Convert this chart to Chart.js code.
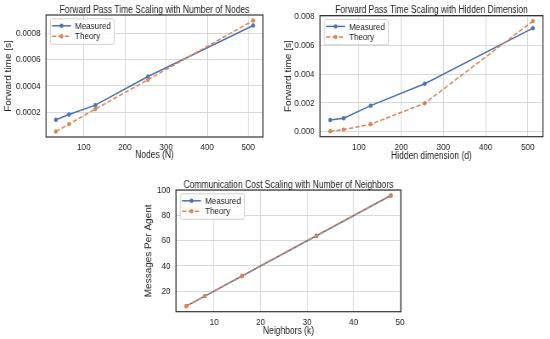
<!DOCTYPE html>
<html>
<head>
<meta charset="utf-8">
<script src="https://cdn.jsdelivr.net/npm/chart.js@4/dist/chart.umd.min.js"></script>
<style>
  body { margin: 0; background: #fff; width: 550px; height: 339px; position: relative; overflow: hidden; }
  canvas { position: absolute; }
</style>
</head>
<body>
<canvas id="c1" style="left:0;top:0;width:275px;height:170px"></canvas>
<canvas id="c2" style="left:275px;top:0;width:275px;height:170px"></canvas>
<canvas id="c3" style="left:130px;top:170px;width:290px;height:169px"></canvas>
<script>
// donnees
const nodes = [32, 64, 128, 256, 512];
const nodesMeasured = [0.000141, 0.000182, 0.000253, 0.000472, 0.000861];
const nodesTheory = [0.000052, 0.000108, 0.000223, 0.000447, 0.000899];

const hidden = [32, 64, 128, 256, 512];
const hiddenMeasured = [0.00081, 0.00093, 0.00181, 0.00334, 0.00721];
const hiddenTheory = [0.00003, 0.00014, 0.00051, 0.00198, 0.0077];

const neighbors = [4, 8, 16, 32, 48];
const msgMeasured = [8, 16, 32, 64, 96];
const msgTheory = [8, 16, 32, 64, 96];

// graduations
const nodesTicks = [100, 200, 300, 400, 500];
const nodesYTicks = [0.0002, 0.0004, 0.0006, 0.0008];
const hiddenTicks = [100, 200, 300, 400, 500];
const hiddenYTicks = [0, 0.002, 0.004, 0.006, 0.008];
const neighborTicks = [10, 20, 30, 40, 50];
const msgTicks = [20, 40, 60, 80, 100];

const BLUE = '#4c72b0';
const ORANGE = '#dd8452';
const FONT = "'Liberation Sans', Arial, sans-serif";
const SQUEEZE = 0.85; // l'image d'origine est comprimee horizontalement

Chart.defaults.font.family = FONT;
Chart.defaults.color = '#222222';

// marges automatiques facon matplotlib (5%)
function limits(...arrs) {
  const all = [].concat(...arrs);
  const lo = Math.min(...all), hi = Math.max(...all);
  const m = (hi - lo) * 0.05;
  return [lo - m, hi + m];
}

const frameAndLegend = {
  id: 'frameAndLegend',
  afterDatasetsDraw(chart) {
    const { ctx, chartArea: a } = chart;
    const k = chart.options.plugins.kx;
    ctx.save();
    // cadre
    ctx.strokeStyle = '#333333';
    ctx.lineWidth = 1.2;
    ctx.strokeRect(a.left, a.top, a.right - a.left, a.bottom - a.top);
    // legende
    ctx.font = '9.5px ' + FONT;
    const sets = chart.data.datasets;
    const tw = Math.max(...sets.map(d => ctx.measureText(d.label).width));
    const x = a.left + 4 / k, y = a.top + 3.3, w = 25 / k + tw + 3 / k, h = 25.5;
    ctx.fillStyle = 'rgba(255,255,255,0.85)';
    ctx.strokeStyle = '#d0d0d0';
    ctx.lineWidth = 1;
    ctx.beginPath();
    ctx.roundRect(x + 0.5, y + 0.5, w, h, 2);
    ctx.fill();
    ctx.stroke();
    sets.forEach((d, i) => {
      const cy = y + 7.5 + i * 10.5;
      ctx.strokeStyle = d.borderColor;
      ctx.lineWidth = 1.5;
      ctx.setLineDash(d.borderDash || []);
      ctx.beginPath();
      ctx.moveTo(x + 2 / k, cy);
      ctx.lineTo(x + 21 / k, cy);
      ctx.stroke();
      ctx.setLineDash([]);
      ctx.fillStyle = d.borderColor;
      ctx.beginPath();
      ctx.arc(x + 11.5 / k, cy, 2.2, 0, Math.PI * 2);
      ctx.fill();
      ctx.fillStyle = '#222222';
      ctx.textBaseline = 'middle';
      ctx.textAlign = 'left';
      ctx.fillText(d.label, x + 25 / k, cy + 0.5);
    });
    // titre centre sur la zone du graphe
    ctx.font = '10px ' + FONT;
    ctx.textAlign = 'center';
    ctx.textBaseline = 'middle';
    ctx.fillText(chart.options.plugins.titleText, (a.left + a.right) / 2, a.top - 5);
    ctx.restore();
  }
};

// cfg: positions en pixels affiches; converties en pixels du canvas
function makeChart(id, cfg) {
  const canvas = document.getElementById(id);
  const cssW = parseFloat(canvas.style.width), cssH = parseFloat(canvas.style.height);
  canvas.width = Math.round(cssW / SQUEEZE);
  canvas.height = cssH;
  const k = cssW / canvas.width;
  const [xmin, xmax] = limits(cfg.x);
  const [ymin, ymax] = limits(cfg.measured, cfg.theory);
  const toPts = ys => cfg.x.map((v, i) => ({ x: v, y: ys[i] }));
  const common = { tension: 0, borderWidth: 1.5, pointRadius: 2.2, pointBorderWidth: 0 };
  return new Chart(canvas, {
    type: 'line',
    data: {
      datasets: [
        { ...common, label: 'Measured', data: toPts(cfg.measured), borderColor: BLUE, backgroundColor: BLUE, order: 1 },
        { ...common, label: 'Theory', data: toPts(cfg.theory), borderColor: ORANGE, backgroundColor: ORANGE, borderDash: [5, 2.5], order: 0 }
      ]
    },
    options: {
      responsive: false,
      animation: false,
      devicePixelRatio: 1,
      layout: { padding: { top: cfg.top, right: (cssW - cfg.right) / k, left: 0, bottom: 0 } },
      plugins: { legend: { display: false }, tooltip: { enabled: false }, titleText: cfg.title, kx: k },
      scales: {
        x: {
          type: 'linear',
          min: xmin,
          max: xmax,
          afterBuildTicks: s => { s.ticks = cfg.xTicks.map(v => ({ value: v })); },
          afterFit: s => { s.height = cssH - cfg.bottom; s.paddingLeft = 0; s.paddingRight = 0; },
          grid: { color: '#d8d8d8', lineWidth: 1, drawTicks: false },
          border: { display: false },
          ticks: { font: { size: 9.5 }, padding: 4.5, maxRotation: 0, callback: v => String(v) },
          title: { display: true, text: cfg.xLabel, font: { size: 10 }, padding: { bottom: cfg.xtp, top: 0 } }
        },
        y: {
          min: ymin,
          max: ymax,
          afterBuildTicks: s => { s.ticks = cfg.yTicks.map(v => ({ value: v })); },
          afterFit: s => { s.width = cfg.left / k; s.paddingTop = 0; s.paddingBottom = 0; },
          grid: { color: '#d8d8d8', lineWidth: 1, drawTicks: false },
          border: { display: false },
          ticks: { font: { size: 9.5 }, padding: 5.5 / k, callback: cfg.yFmt },
          title: { display: true, text: cfg.yLabel, font: { size: 10 }, padding: { top: cfg.ylx / k - 6, bottom: 0 } }
        }
      }
    },
    plugins: [frameAndLegend]
  });
}

makeChart('c1', {
  title: 'Forward Pass Time Scaling with Number of Nodes',
  x: nodes, measured: nodesMeasured, theory: nodesTheory,
  xTicks: nodesTicks, yTicks: nodesYTicks,
  yFmt: v => v.toFixed(4),
  xLabel: 'Nodes (N)', yLabel: 'Forward time [s]',
  left: 46, right: 263, top: 15, bottom: 137, xtp: 8.5, ylx: 8.3
});

makeChart('c2', {
  title: 'Forward Pass Time Scaling with Hidden Dimension',
  x: hidden, measured: hiddenMeasured, theory: hiddenTheory,
  xTicks: hiddenTicks, yTicks: hiddenYTicks,
  yFmt: v => v.toFixed(3),
  xLabel: 'Hidden dimension (d)', yLabel: 'Forward time [s]',
  left: 45, right: 268, top: 15.6, bottom: 136.7, xtp: 7.5, ylx: 14
});

makeChart('c3', {
  title: 'Communication Cost Scaling with Number of Neighbors',
  x: neighbors, measured: msgMeasured, theory: msgTheory,
  xTicks: neighborTicks, yTicks: msgTicks,
  yFmt: v => String(v),
  xLabel: 'Neighbors (k)', yLabel: 'Messages Per Agent',
  left: 46, right: 271, top: 20, bottom: 141.7, xtp: 1.5, ylx: 19
});
</script>
</body>
</html>
